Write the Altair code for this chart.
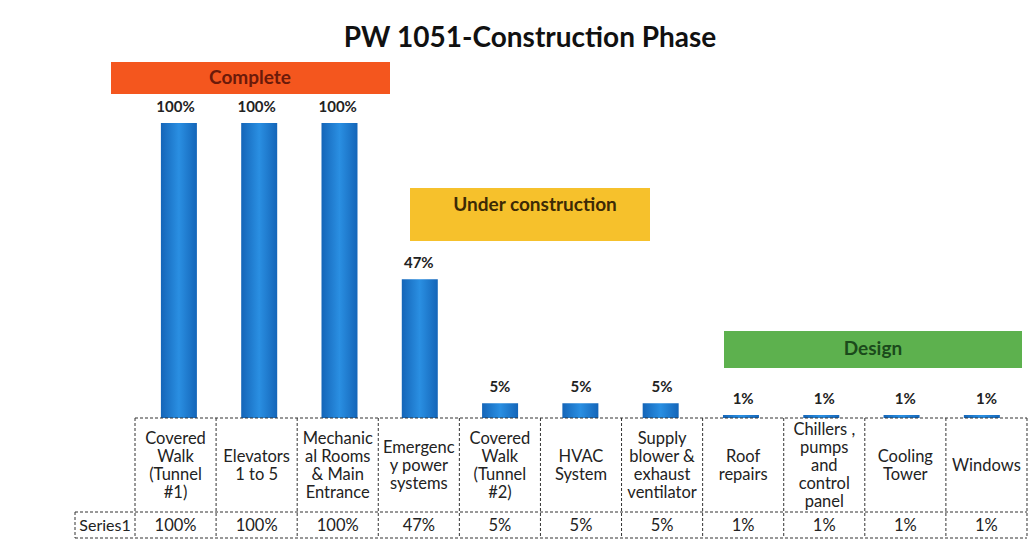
import altair as alt
import pandas as pd

# ---------------- data ----------------
chart_title = "PW 1051-Construction Phase"
series_name = "Series1"
categories = [
    ["Covered", "Walk", "(Tunnel", "#1)"],
    ["Elevators", "1 to 5"],
    ["Mechanic", "al Rooms", "& Main", "Entrance"],
    ["Emergenc", "y power", "systems"],
    ["Covered", "Walk", "(Tunnel", "#2)"],
    ["HVAC", "System"],
    ["Supply", "blower &", "exhaust", "ventilator"],
    ["Roof", "repairs"],
    ["Chillers ,", "pumps", "and", "control", "panel"],
    ["Cooling", "Tower"],
    ["Windows"],
]
values = [100, 100, 100, 47, 5, 5, 5, 1, 1, 1, 1]
stages = ["Complete", "Under construction", "Design"]

# ---------------- layout ----------------
W, H = 1020, 534
CW = 81.09            # table column width in px
TL = 127              # table left edge (plot px)
PPU = 2.95            # px per percent
BASE = 410            # px of 0%
LH = 18               # category line height
xdom = [-TL / CW - 0.5, (W - TL) / CW - 0.5]
ydom = [-(H - BASE) / PPU, BASE / PPU]
xs = alt.Scale(domain=xdom, nice=False, zero=False)
ys = alt.Scale(domain=ydom, nice=False, zero=False)
FONT = "Lato"

n = len(values)
df = pd.DataFrame({
    "idx": list(range(n)),
    "value": values,
    "base": [0] * n,
    "label": [f"{v}%" for v in values],
    "lines": categories,
})
df["cy"] = [(466 - 8) - (len(c) - 1) / 2 * LH for c in categories]

X = alt.X("idx:Q", scale=xs, axis=None)
pxx = alt.Scale(domain=[0, W], range=[0, W])
pxy = alt.Scale(domain=[0, H], range=[0, H])

grad = alt.Gradient(
    gradient="linear",
    stops=[alt.GradientStop(color="#1465b8", offset=0),
           alt.GradientStop(color="#2a8fe2", offset=0.5),
           alt.GradientStop(color="#1465b8", offset=1)],
    x1=0, x2=1, y1=0, y2=0,
)

bars = alt.Chart(df).mark_bar(size=36, color=grad).encode(
    x=X,
    y=alt.Y("value:Q", scale=ys, axis=None),
    y2="base:Q",
)

bar_labels = alt.Chart(df).mark_text(
    font=FONT, fontSize=15, fontWeight="bold", color="#222", baseline="middle", dy=-16
).encode(
    x=X, y=alt.Y("value:Q", scale=ys, axis=None), text="label:N"
)

cat_text = alt.Chart(df).mark_text(
    font=FONT, fontSize=16.5, color="#222", baseline="middle", lineHeight=LH
).encode(
    x=X, y=alt.Y("cy:Q", scale=pxy, axis=None), text="lines:N"
)

val_text = alt.Chart(df).mark_text(
    font=FONT, fontSize=16.5, color="#222", baseline="middle"
).encode(
    x=X, y=alt.value(526 - 8), text="label:N"
)

# table grid
bounds = pd.DataFrame({"b": [i - 0.5 for i in range(n + 1)]})
vlines = alt.Chart(bounds).mark_rule(color="#333", strokeDash=[3, 2], strokeWidth=1).encode(
    x=alt.X("b:Q", scale=xs, axis=None), y=alt.value(BASE), y2=alt.value(538 - 8)
)
left_edge = -0.5 - 60 / CW
hl = pd.DataFrame({
    "x1": [-0.5, left_edge, left_edge, left_edge],
    "x2": [n - 0.5, n - 0.5, n - 0.5, left_edge],
    "y1": [BASE, 512 - 8, 538 - 8, 512 - 8],
    "y2": [BASE, 512 - 8, 538 - 8, 538 - 8],
})
hlines = alt.Chart(hl).mark_rule(color="#333", strokeDash=[3, 2], strokeWidth=1).encode(
    x=alt.X("x1:Q", scale=xs, axis=None), x2="x2:Q",
    y=alt.Y("y1:Q", scale=pxy, axis=None), y2="y2:Q",
)
series_lbl = alt.Chart(pd.DataFrame({"t": [series_name]})).mark_text(
    font=FONT, fontSize=16, color="#222", baseline="middle"
).encode(x=alt.value(105 - 8), y=alt.value(526 - 8), text="t:N")

# stage boxes
box_df = pd.DataFrame({
    "stage": stages,
    "x1": [111 - 8, 410 - 8, 724 - 8],
    "x2": [390 - 8, 650 - 8, 1022 - 8],
    "y1": [62 - 8, 188 - 8, 331 - 8],
    "y2": [94 - 8, 241 - 8, 368 - 8],
    "ty": [78 - 8, 205 - 8, 349 - 8],
    "tx": [250 - 8, 535 - 8, 873 - 8],
})
boxes = alt.Chart(box_df).mark_rect().encode(
    x=alt.X("x1:Q", scale=pxx, axis=None), x2="x2:Q",
    y=alt.Y("y1:Q", scale=pxy, axis=None), y2="y2:Q",
    color=alt.Color("stage:N", scale=alt.Scale(domain=stages, range=["#f4561e", "#f6c12c", "#5db14e"]), legend=None),
)
box_text = alt.Chart(box_df).mark_text(font=FONT, fontSize=19, fontWeight="bold", baseline="middle").encode(
    x=alt.X("tx:Q", scale=pxx, axis=None),
    y=alt.Y("ty:Q", scale=pxy, axis=None),
    text="stage:N",
    color=alt.Color("stage:N", scale=alt.Scale(domain=stages, range=["#6b1a0a", "#3d2a05", "#1b4a1b"]), legend=None),
)

title = alt.Chart(pd.DataFrame({"t": [chart_title]})).mark_text(
    font=FONT, fontSize=28, fontWeight="bold", color="#111", baseline="middle"
).encode(x=alt.value(530 - 8), y=alt.value(39 - 8), text="t:N")

chart = alt.layer(
    boxes, box_text, bars, bar_labels, vlines, hlines, cat_text, val_text, series_lbl, title
).resolve_scale(
    x="independent", y="independent", color="independent"
).properties(
    width=W, height=H, padding=0, autosize=alt.AutoSizeParams(type="none")
).configure_view(stroke=None)

chart.save("out.html", embed_options={"renderer": "svg", "actions": False})
